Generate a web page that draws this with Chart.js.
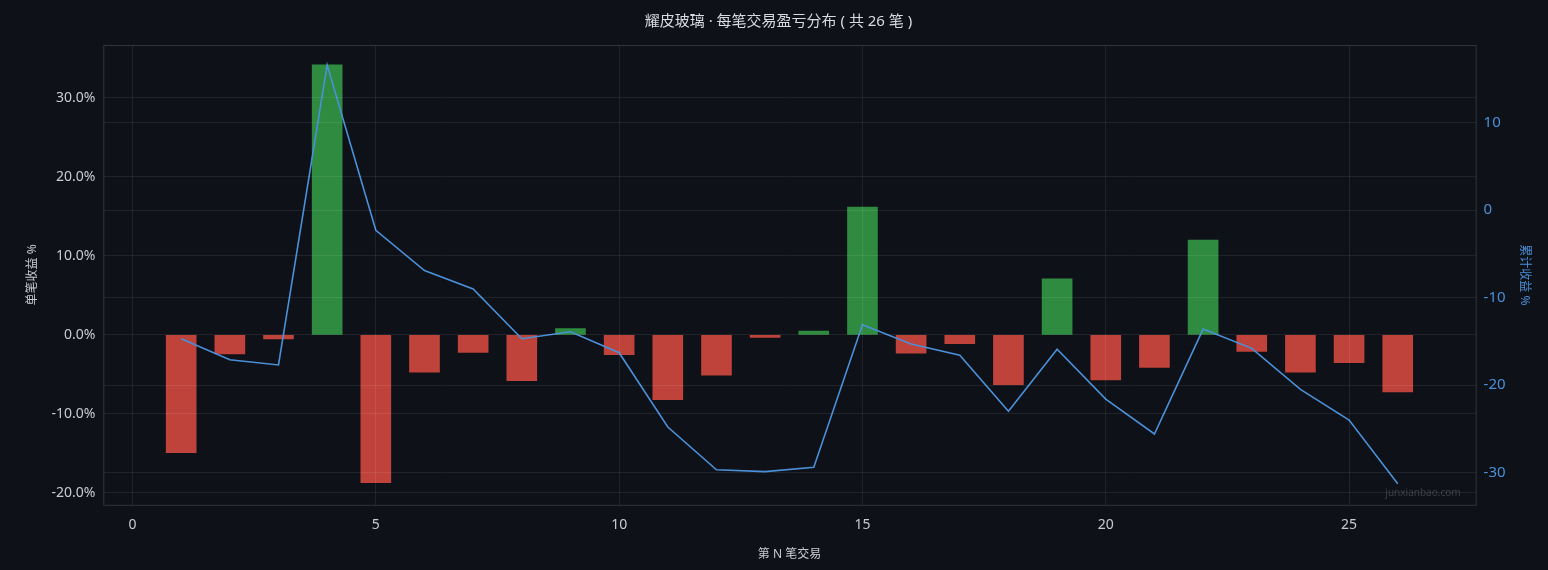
<!DOCTYPE html>
<html><head><meta charset="utf-8">
<script src="https://cdn.jsdelivr.net/npm/chart.js@4"></script>
<style>
html,body{margin:0;background:#0e1117;}
#wrap{width:1548px;height:570px;position:relative;}
</style></head>
<body><div id="wrap"><canvas id="c"></canvas></div>
<script>
const tradeNo = [1,2,3,4,5,6,7,8,9,10,11,12,13,14,15,16,17,18,19,20,21,22,23,24,25,26];
const tradePct = [-14.9,-2.4,-0.5,34.2,-18.7,-4.7,-2.2,-5.8,0.8,-2.5,-8.2,-5.1,-0.3,0.5,16.2,-2.3,-1.1,-6.3,7.1,-5.7,-4.1,12.0,-2.1,-4.7,-3.5,-7.2];
const cumPct = [-14.7,-17.1,-17.7,16.6,-2.3,-6.9,-9.0,-14.7,-13.9,-16.3,-24.8,-29.7,-29.9,-29.4,-13.1,-15.3,-16.6,-23.0,-15.9,-21.6,-25.6,-13.6,-15.8,-20.5,-24.0,-31.3];
const xTicks = [0,5,10,15,20,25];
const yTicks = [-20,-10,0,10,20,30];
const y2Ticks = [-30,-20,-10,0,10];

const font = "'Noto Sans', 'Noto Sans CJK SC', sans-serif";
const gridColor = 'rgba(255,255,255,0.08)';
const grid = { color: gridColor, z: 1, offset: false, drawTicks: false };

// frame around the plot + watermark
const frame = {
    id: 'frame',
    afterDraw(chart) {
        const { ctx, chartArea: a } = chart;
        ctx.save();
        ctx.strokeStyle = '#30353d';
        ctx.lineWidth = 1;
        ctx.strokeRect(a.left + 0.5, a.top + 0.5, a.right - a.left, a.bottom - a.top);
        ctx.font = '10px ' + font;
        ctx.fillStyle = 'rgba(255,255,255,0.18)';
        ctx.textAlign = 'right';
        ctx.fillText('junxianbao.com', a.right - 15, a.bottom - 9);
        ctx.restore();
    }
};

new Chart(document.getElementById('c'), {
    type: 'bar',
    data: {
        datasets: [{
            type: 'line',
            data: tradeNo.map((x, i) => ({ x, y: cumPct[i] })),
            yAxisID: 'y2',
            borderColor: '#4a90d9',
            borderWidth: 1.6,
            pointRadius: 0,
            tension: 0,
            order: 0
        }, {
            data: tradeNo.map((x, i) => ({ x, y: tradePct[i] })),
            yAxisID: 'y',
            backgroundColor: tradePct.map(v => v >= 0 ? '#2e8b40' : '#bf423b'),
            barThickness: 30,
            order: 1
        }]
    },
    options: {
        responsive: true,
        maintainAspectRatio: false,
        animation: false,
        layout: { padding: { left: 21, right: 12, top: 6, bottom: 6 } },
        plugins: {
            legend: { display: false },
            tooltip: { enabled: false },
            title: {
                display: true,
                text: '耀皮玻璃 · 每笔交易盈亏分布 ( 共 26 笔 )',
                color: '#d8dbe0',
                font: { family: font, size: 15, weight: 'normal' },
                padding: { top: 7, bottom: 14 }
            }
        },
        scales: {
            x: {
                type: 'linear',
                min: -0.6, max: 27.6,
                offset: false,
                afterBuildTicks: axis => { axis.ticks = xTicks.map(v => ({ value: v })); },
                ticks: { color: '#c8ccd2', font: { family: font, size: 14 }, padding: 12 },
                grid: grid,
                border: { display: false },
                title: { display: true, text: '第 N 笔交易', color: '#c8ccd2', font: { family: font, size: 12 }, padding: { top: 2, bottom: 2 } }
            },
            y: {
                min: -21.5, max: 36.7,
                afterBuildTicks: axis => { axis.ticks = yTicks.map(v => ({ value: v })); },
                ticks: { color: '#c8ccd2', font: { family: font, size: 14 }, padding: 8, callback: v => v.toFixed(1) + '%' },
                grid: grid,
                border: { display: false },
                title: { display: true, text: '单笔收益 %', color: '#c8ccd2', font: { family: font, size: 12 } }
            },
            y2: {
                position: 'right',
                min: -33.7, max: 18.9,
                afterBuildTicks: axis => { axis.ticks = y2Ticks.map(v => ({ value: v })); },
                ticks: { color: '#4a90d9', font: { family: font, size: 15 }, padding: 8 },
                grid: grid,
                border: { display: false },
                title: { display: true, text: '累计收益 %', color: '#4a90d9', font: { family: font, size: 12 } }
            }
        }
    },
    plugins: [frame]
});
</script></body></html>
